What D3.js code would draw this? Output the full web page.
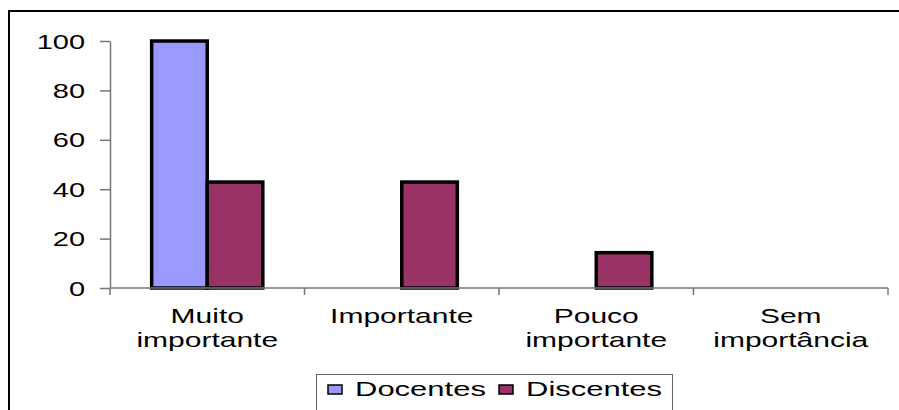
<!DOCTYPE html>
<html>
<head>
<meta charset="utf-8">
<script src="https://cdn.jsdelivr.net/npm/d3@7"></script>
<style>
  html, body { margin: 0; padding: 0; background: #fff; }
  svg { display: block; }
  text { font-family: "Liberation Sans", Arial, sans-serif; fill: #000; }
</style>
</head>
<body>
<svg id="chart" width="899" height="410"></svg>
<script>
const categories = [["Muito", "importante"], ["Importante"], ["Pouco", "importante"], ["Sem", "importância"]];
const categoryKeys = ["Muito importante", "Importante", "Pouco importante", "Sem importância"];
const seriesNames = ["Docentes", "Discentes"];
const docentes = [100, 0, 0, 0];
const discentes = [42.9, 42.9, 14.3, 0];
const yTicks = [0, 20, 40, 60, 80, 100];
const colors = ["#9999FF", "#993366"];

const SX_Y = 1.45;   // horizontal text stretch seen in reference
const SX_X = 1.5;
const SX_L = 1.55;
const FS = 20;

const svg = d3.select("#chart");

// outer frame (left and top visible)
svg.append("path")
  .attr("d", "M9,410 V11 H899")
  .attr("fill", "none").attr("stroke", "#000").attr("stroke-width", 2);

const x = d3.scaleBand().domain(categoryKeys).range([110, 888]).padding(0);
const xs = d3.scaleBand().domain(seriesNames).range([0, x.bandwidth()]).paddingInner(0).paddingOuter(0.75);
const y = d3.scaleLinear().domain([0, 100]).range([288, 41]);

const seriesData = [docentes, discentes];

// bars
seriesNames.forEach((s, si) => {
  const data = categoryKeys.map((c, i) => ({ c, v: seriesData[si][i] })).filter(d => d.v > 0);
  svg.append("g").selectAll("rect").data(data).join("rect")
    .attr("x", d => x(d.c) + xs(s))
    .attr("y", d => y(d.v))
    .attr("width", xs.bandwidth())
    .attr("height", d => y(0) - y(d.v))
    .attr("fill", colors[si])
    .attr("stroke", "#000")
    .attr("stroke-width", 3.5);
});

// y axis
const yAxis = svg.append("g")
  .attr("transform", "translate(110,0)")
  .call(d3.axisLeft(y).tickValues(yTicks).tickSize(10).tickSizeOuter(0).tickPadding(0));
yAxis.select(".domain").attr("stroke", "#777").attr("stroke-width", 1.5);
yAxis.selectAll(".tick line").attr("stroke", "#777").attr("stroke-width", 1.5);
yAxis.selectAll(".tick text")
  .attr("x", -25 / SX_Y)
  .attr("dy", "0.35em")
  .attr("transform", `scale(${SX_Y},1)`)
  .style("font-size", FS + "px")
  .style("font-family", "'Liberation Sans', Arial, sans-serif")
  .attr("fill", "#000");

// x axis line + boundary ticks
const xa = svg.append("g");
xa.append("line")
  .attr("x1", x.range()[0]).attr("x2", x.range()[1])
  .attr("y1", y(0)).attr("y2", y(0))
  .attr("stroke", "#777").attr("stroke-width", 1.5);
const bounds = categoryKeys.map(c => x(c)).concat([x.range()[1]]);
xa.selectAll("line.tk").data(bounds).join("line")
  .attr("class", "tk")
  .attr("x1", d => d).attr("x2", d => d)
  .attr("y1", y(0)).attr("y2", y(0) + 7)
  .attr("stroke", "#777").attr("stroke-width", 1.5);

// x labels
categories.forEach((lines, i) => {
  const cx = x(categoryKeys[i]) + x.bandwidth() / 2;
  lines.forEach((ln, j) => {
    svg.append("text")
      .attr("transform", `translate(${cx},${323 + j * 24}) scale(${SX_X},1)`)
      .attr("text-anchor", "middle")
      .style("font-size", FS + "px")
      .text(ln);
  });
});

// legend
const lg = svg.append("g");
lg.append("rect")
  .attr("x", 316.5).attr("y", 374.5).attr("width", 356).attr("height", 40)
  .attr("fill", "#fff").attr("stroke", "#666").attr("stroke-width", 1);
const legendX = [328, 499];
seriesNames.forEach((s, si) => {
  lg.append("rect")
    .attr("x", legendX[si]).attr("y", 385).attr("width", 14).attr("height", 9)
    .attr("fill", colors[si]).attr("stroke", "#000").attr("stroke-width", 1.5);
  lg.append("text")
    .attr("transform", `translate(${legendX[si] + 27},${396}) scale(${SX_L},1)`)
    .style("font-size", FS + "px")
    .text(s);
});
</script>
</body>
</html>
